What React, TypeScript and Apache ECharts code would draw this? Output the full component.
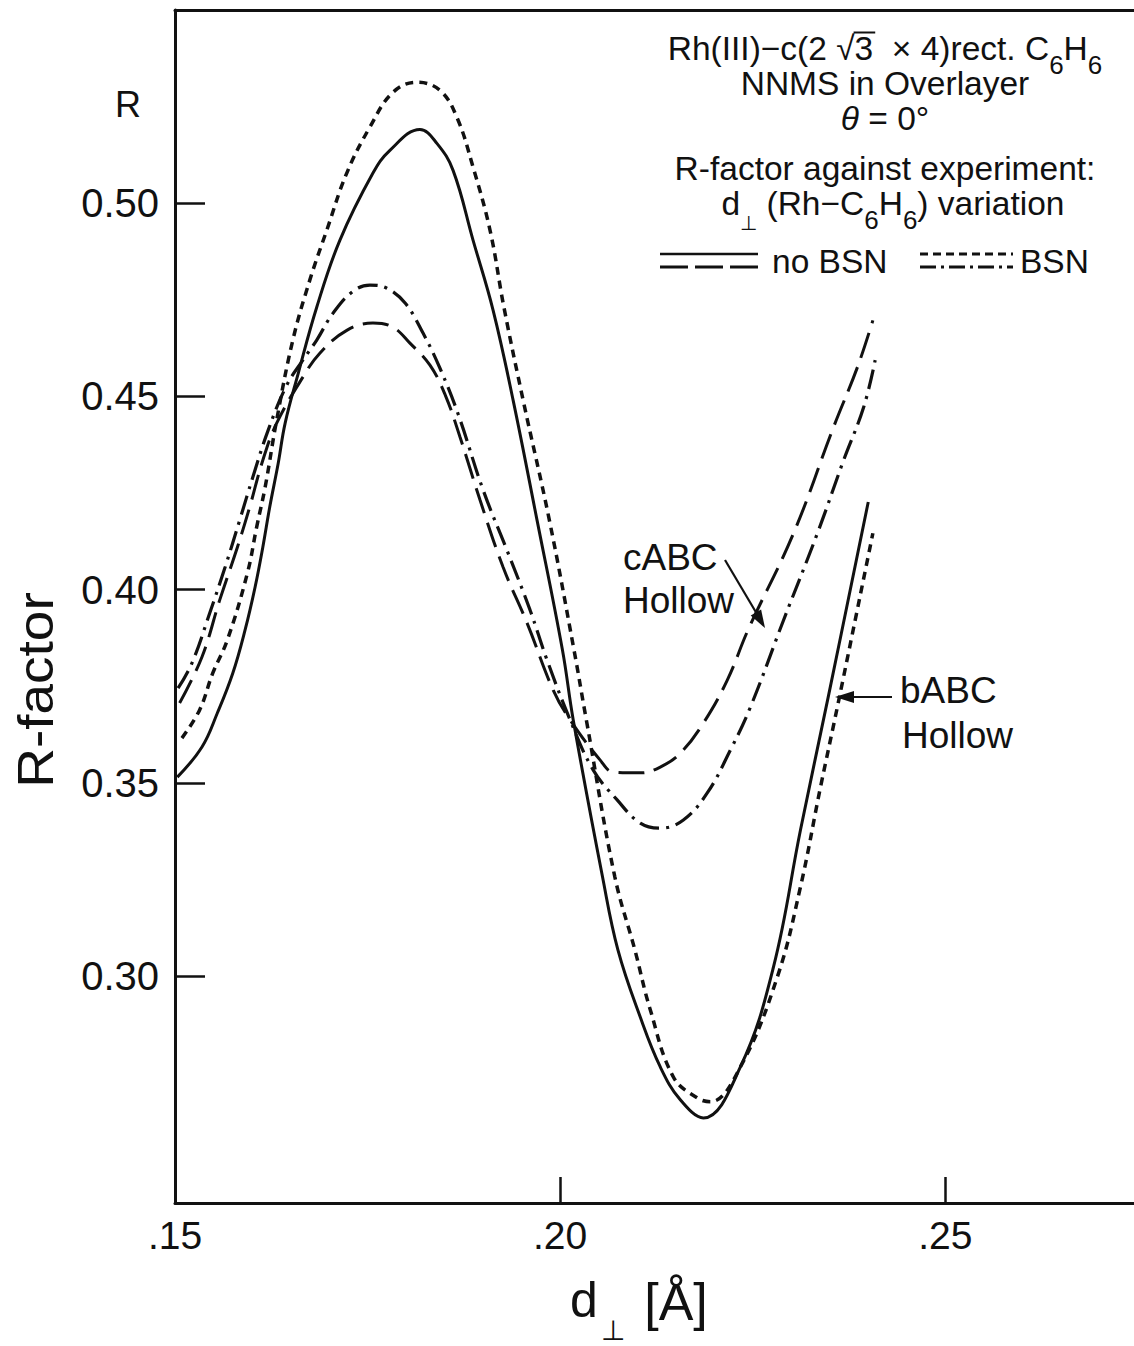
import React, { useEffect, useRef } from "react";
import * as echarts from "echarts";

type Pt = [number, number];

// bABC Hollow, no BSN (solid)
const bAbcNoBsn: Pt[] = [
  [0.1503, 0.3515], [0.1535, 0.3593], [0.1555, 0.3681], [0.1575, 0.3784], [0.1591, 0.3896],
  [0.1604, 0.4007], [0.1614, 0.411], [0.1623, 0.4214], [0.1634, 0.4327], [0.1643, 0.4431],
  [0.166, 0.456], [0.1684, 0.4731], [0.1714, 0.4904], [0.1757, 0.5078],
  [0.1779, 0.5137], [0.1818, 0.5191], [0.184, 0.5155], [0.1861, 0.5085], [0.1887, 0.4904],
  [0.1913, 0.4723], [0.1939, 0.449], [0.197, 0.418], [0.2003, 0.3844], [0.2017, 0.3663],
  [0.2055, 0.3257], [0.2075, 0.3068], [0.2104, 0.2894], [0.213, 0.2765], [0.2156, 0.268],
  [0.2186, 0.2633], [0.2234, 0.2765], [0.2277, 0.3024], [0.2312, 0.3378], [0.2348, 0.3722],
  [0.24, 0.4227],
];

// bABC Hollow, BSN (short dashes)
const bAbcBsn: Pt[] = [
  [0.1509, 0.3616], [0.1532, 0.3689], [0.1549, 0.3784], [0.1568, 0.387], [0.1594, 0.4043],
  [0.1606, 0.4162], [0.1617, 0.4265], [0.1632, 0.4439], [0.1653, 0.4646], [0.1675, 0.4801],
  [0.1697, 0.493], [0.1723, 0.5078], [0.1753, 0.5197], [0.1783, 0.5287], [0.1814, 0.5313],
  [0.1844, 0.5292], [0.1866, 0.5222], [0.1887, 0.5093], [0.1909, 0.493], [0.1927, 0.4731],
  [0.1952, 0.449], [0.1986, 0.418], [0.2018, 0.3844], [0.2034, 0.3663], [0.2071, 0.3257],
  [0.2097, 0.3068], [0.2117, 0.2913], [0.2147, 0.2739], [0.2178, 0.2685], [0.2195, 0.2675],
  [0.2234, 0.2765], [0.2282, 0.2998], [0.2312, 0.3231], [0.2338, 0.3489], [0.2361, 0.3707],
  [0.2406, 0.4146],
];

// cABC Hollow, no BSN (long dashes)
const cAbcNoBsn: Pt[] = [
  [0.1506, 0.3707], [0.1535, 0.3826], [0.1558, 0.3973], [0.1581, 0.411], [0.1597, 0.4214],
  [0.1614, 0.4335], [0.1632, 0.4431], [0.1666, 0.455], [0.1688, 0.4612], [0.1723, 0.4671],
  [0.1757, 0.469], [0.1783, 0.4679], [0.1805, 0.4638], [0.1831, 0.4581], [0.1851, 0.4503],
  [0.187, 0.4395], [0.1896, 0.4232], [0.1926, 0.4058], [0.1957, 0.3914], [0.1991, 0.374],
  [0.2013, 0.3663], [0.2052, 0.3559], [0.2069, 0.3528], [0.2104, 0.3526], [0.213, 0.3541],
  [0.2156, 0.3577], [0.2186, 0.3655], [0.2217, 0.3766], [0.2244, 0.3896], [0.2303, 0.4146],
  [0.2355, 0.4421], [0.2386, 0.4576], [0.2406, 0.4697],
];

// cABC Hollow, BSN (dash-dot)
const cAbcBsn: Pt[] = [
  [0.1504, 0.3745], [0.1522, 0.381], [0.1545, 0.3939], [0.1565, 0.4058], [0.1584, 0.418],
  [0.1601, 0.4291], [0.1621, 0.4413], [0.1645, 0.4529], [0.1666, 0.4594], [0.1684, 0.4646],
  [0.1705, 0.4715], [0.1731, 0.4772], [0.1753, 0.4788], [0.1775, 0.478], [0.1799, 0.4741],
  [0.1822, 0.4664], [0.1844, 0.4573], [0.1868, 0.4452], [0.19, 0.4258], [0.1931, 0.4102],
  [0.1961, 0.3947], [0.1983, 0.3818], [0.2013, 0.3663], [0.2043, 0.3533], [0.2074, 0.3456],
  [0.2104, 0.3396], [0.213, 0.3383], [0.216, 0.3404], [0.2191, 0.3474], [0.2221, 0.3585],
  [0.2247, 0.3696], [0.229, 0.3921], [0.2334, 0.4146], [0.2368, 0.4335], [0.2394, 0.4472],
  [0.2409, 0.4594],
];

const yTickValues = [0.3, 0.35, 0.4, 0.45, 0.5];
const xLabelValues = [0.15, 0.2, 0.25];
const xTickValues = [0.2, 0.25];

const X_MIN = 0.15;
const X_MAX = 0.2745;
const Y_MIN = 0.2413;
const Y_MAX = 0.55;

const FONT = "'Liberation Sans', Arial, Helvetica, sans-serif";
const INK = "#111";
const TS = 33.5;

type Piece = { t: string; size: number; dy?: number; italic?: boolean; over?: boolean };

// annotation lines (text pieces; subscripts carry a downward offset)
const titleLine1: Piece[] = [
  { t: "Rh(III)−c(2 √", size: TS },
  { t: "3", size: TS, over: true },
  { t: "  × 4)rect. C", size: TS },
  { t: "6", size: 26, dy: 17 },
  { t: "H", size: TS },
  { t: "6", size: 26, dy: 17 },
];
const titleLine2: Piece[] = [{ t: "NNMS in Overlayer", size: TS }];
const titleLine3: Piece[] = [
  { t: "θ", size: TS, italic: true },
  { t: " = 0°", size: TS },
];
const titleLine4: Piece[] = [{ t: "R-factor against experiment:", size: TS }];
const titleLine5: Piece[] = [
  { t: "d", size: TS },
  { t: "⊥", size: 20, dy: 20 },
  { t: " (Rh−C", size: TS },
  { t: "6", size: 26, dy: 17 },
  { t: "H", size: TS },
  { t: "6", size: 26, dy: 17 },
  { t: ") variation", size: TS },
];

export default function App() {
  const ref = useRef<HTMLDivElement>(null);

  useEffect(() => {
    if (!ref.current) return;
    const chart = echarts.init(ref.current, null, { renderer: "svg" });

    const cv = document.createElement("canvas");
    const ctx = cv.getContext("2d") as CanvasRenderingContext2D;
    const measure = (t: string, size: number, italic?: boolean) => {
      ctx.font = `${italic ? "italic " : ""}${size}px ${FONT}`;
      return ctx.measureText(t).width;
    };

    const txt = (text: string, x: number, y: number, fontSize: number, align = "center", extra: any = {}) => ({
      type: "text",
      x,
      y,
      silent: true,
      style: {
        text,
        fontSize,
        fontFamily: FONT,
        fill: INK,
        align,
        verticalAlign: "middle",
        lineHeight: Math.round(fontSize * 0.85),
        ...extra,
      },
    });

    const seg = (x1: number, y1: number, x2: number, y2: number, width: number, dash?: number[]) => ({
      type: "line",
      silent: true,
      shape: { x1, y1, x2, y2 },
      style: { stroke: INK, lineWidth: width, lineDash: dash || null },
    });

    const layLine = (pieces: Piece[], cx: number, cy: number) => {
      const widths = pieces.map((p) => measure(p.t, p.size, p.italic));
      const total = widths.reduce((a, b) => a + b, 0);
      let x = cx - total / 2;
      const out: any[] = [];
      pieces.forEach((p, i) => {
        out.push(
          txt(p.t, x, cy + (p.dy || 0), p.size, "left", p.italic ? { fontStyle: "italic" } : {})
        );
        if (p.over) out.push(seg(x - 1, cy - 15.5, x + widths[i] + 2, cy - 15.5, 2));
        x += widths[i];
      });
      return out;
    };

    const lineSeries = (data: Pt[], width: number, type: any) => ({
      type: "line",
      data,
      symbol: "none",
      showSymbol: false,
      smooth: 0.4,
      clip: true,
      lineStyle: { color: INK, width, type, cap: "butt" },
    });

    const option: any = {
      animation: false,
      backgroundColor: "#ffffff",
      grid: { left: 175, right: 0, top: 10, bottom: 143, show: false },
      xAxis: [
        {
          type: "value",
          min: X_MIN,
          max: X_MAX,
          position: "bottom",
          axisLine: { show: true, onZero: false, lineStyle: { color: INK, width: 3 } },
          axisTick: { show: true, inside: true, length: 26, customValues: xTickValues, lineStyle: { color: INK, width: 2.5 } },
          axisLabel: {
            show: true,
            customValues: xLabelValues,
            formatter: (v: number) => v.toFixed(2).replace(/^0/, ""),
            fontSize: 39,
            fontFamily: FONT,
            color: INK,
            margin: 13,
          },
          splitLine: { show: false },
        },
        {
          type: "value",
          min: X_MIN,
          max: X_MAX,
          position: "top",
          axisLine: { show: true, onZero: false, lineStyle: { color: INK, width: 3 } },
          axisTick: { show: false },
          axisLabel: { show: false },
          splitLine: { show: false },
        },
      ],
      yAxis: {
        type: "value",
        min: Y_MIN,
        max: Y_MAX,
        axisLine: { show: true, onZero: false, lineStyle: { color: INK, width: 3 } },
        axisTick: { show: true, inside: true, length: 30, customValues: yTickValues, lineStyle: { color: INK, width: 2.5 } },
        axisLabel: {
          customValues: yTickValues,
          formatter: (v: number) => v.toFixed(2),
          fontSize: 40,
          fontFamily: FONT,
          color: INK,
          margin: 16,
        },
        splitLine: { show: false },
      },
      series: [
        lineSeries(bAbcNoBsn, 3, "solid"),
        lineSeries(bAbcBsn, 3.5, [8, 6]),
        lineSeries(cAbcNoBsn, 3, [26, 10]),
        lineSeries(cAbcBsn, 3.2, [20, 7, 3, 7]),
      ],
      graphic: [
        // axis titles
        txt("R", 128, 104, 36),
        {
          type: "text",
          x: 35,
          y: 690,
          rotation: Math.PI / 2,
          scaleX: 1.1,
          silent: true,
          style: { text: "R-factor", fontSize: 50, fontFamily: FONT, fill: INK, align: "center", verticalAlign: "middle" },
        },
        txt("d", 584, 1300, 50),
        txt("⊥", 613, 1330, 28),
        txt("[Å]", 676, 1302, 52),
        // annotation block
        ...layLine(titleLine1, 885, 48),
        ...layLine(titleLine2, 885, 83),
        ...layLine(titleLine3, 885, 118),
        ...layLine(titleLine4, 885, 168),
        ...layLine(titleLine5, 893, 203),
        // legend samples
        seg(660, 254, 758, 254, 2.5),
        seg(660, 267, 758, 267, 3, [28, 7]),
        txt("no BSN", 772, 261, TS, "left"),
        seg(920, 254, 1013, 254, 3, [8, 5]),
        seg(920, 267, 1013, 267, 3, [16, 5, 3, 5]),
        txt("BSN", 1020, 261, TS, "left"),
        // curve labels
        txt("cABC", 623, 557, 37, "left"),
        txt("Hollow", 623, 600, 37, "left"),
        txt("bABC", 900, 690, 37, "left"),
        txt("Hollow", 902, 735, 37, "left"),
        // arrows
        seg(725, 560, 757, 614, 2.2),
        {
          type: "polygon",
          silent: true,
          shape: { points: [[765, 628], [750.7, 615.5], [761.1, 609.5]] },
          style: { fill: INK },
        },
        seg(892, 697, 850, 697, 2.2),
        {
          type: "polygon",
          silent: true,
          shape: { points: [[835, 697], [854, 691], [854, 703]] },
          style: { fill: INK },
        },
      ],
    };

    chart.setOption(option);
    return () => chart.dispose();
  }, []);

  return (
    <div
      ref={ref}
      style={{ position: "absolute", left: 0, top: 0, width: 1134, height: 1346, background: "#fff" }}
    />
  );
}
